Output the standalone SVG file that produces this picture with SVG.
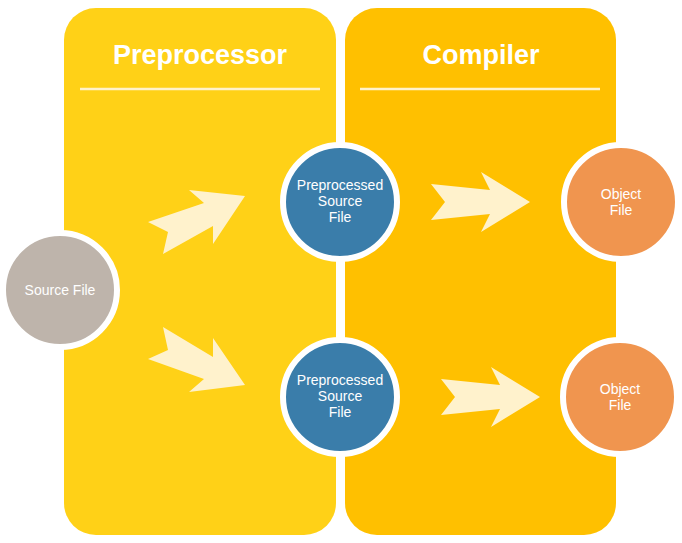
<svg xmlns="http://www.w3.org/2000/svg" width="682" height="543" viewBox="0 0 682 543">
<style>
.title{font-family:"Liberation Sans",Arial,sans-serif;font-size:27px;font-weight:bold;fill:#fff;text-anchor:middle}
.lbl{font-family:"Liberation Sans",Arial,sans-serif;font-size:14px;fill:#fff;text-anchor:middle}
.node{stroke:#fff;stroke-width:6}
.arrow{fill:#FFF2CC}
.div{stroke:#FFF2CC;stroke-width:2.5}
</style>
<rect width="682" height="543" fill="#fff"/>
<g id="preprocessor">
<rect x="64" y="8" width="272" height="527" rx="32" fill="#FFD117"/>
<text class="title" x="200" y="64">Preprocessor</text>
<line class="div" x1="80" y1="89" x2="320" y2="89"/>
</g>
<g id="compiler">
<rect x="345" y="8" width="271" height="527" rx="32" fill="#FFC000"/>
<text class="title" x="481" y="64">Compiler</text>
<line class="div" x1="360" y1="89" x2="600" y2="89"/>
</g>
<g id="connectors">
<polygon class="arrow" points="148,222 204,203 189,190 245,196 213,244 213,226 163,254 168,232"/>
<polygon class="arrow" points="148,359 168,350 163,327 213,357 213,338 245,385 189,392 204,379"/>
<polygon class="arrow" points="431,184 490,190 481,172 530,202 481,232 490,214 431,220 445,202"/>
<polygon class="arrow" points="441,379 500,385 491,367 540,397 491,427 500,409 441,415 455,397"/>
</g>
<g id="source">
<circle class="node" cx="60" cy="290" r="57" fill="#BEB4AB"/>
<text class="lbl" x="60" y="295">Source File</text>
</g>
<g id="pre1">
<circle class="node" cx="340" cy="202" r="57" fill="#3A7DAA"/>
<text class="lbl" x="340" y="190">Preprocessed</text>
<text class="lbl" x="340" y="206">Source</text>
<text class="lbl" x="340" y="222">File</text>
</g>
<g id="pre2">
<circle class="node" cx="340" cy="397" r="57" fill="#3A7DAA"/>
<text class="lbl" x="340" y="385">Preprocessed</text>
<text class="lbl" x="340" y="401">Source</text>
<text class="lbl" x="340" y="417">File</text>
</g>
<g id="obj1">
<circle class="node" cx="621" cy="202" r="57" fill="#F0954F"/>
<text class="lbl" x="621" y="199">Object</text>
<text class="lbl" x="621" y="215">File</text>
</g>
<g id="obj2">
<circle class="node" cx="620" cy="397" r="57" fill="#F0954F"/>
<text class="lbl" x="620" y="394">Object</text>
<text class="lbl" x="620" y="410">File</text>
</g>
</svg>
